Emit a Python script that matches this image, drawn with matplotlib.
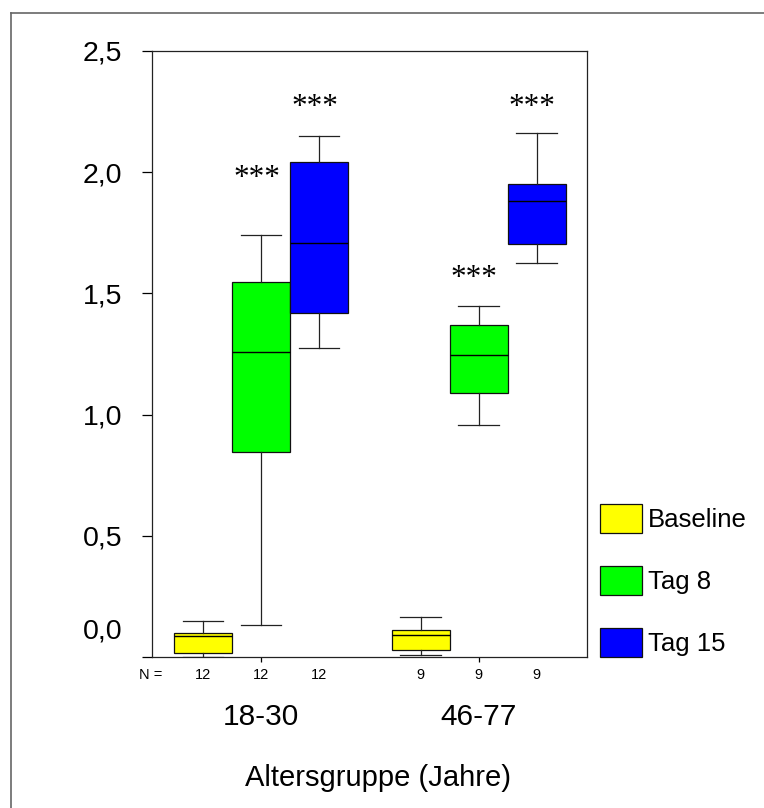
import matplotlib
matplotlib.use("Agg")
import matplotlib.pyplot as plt
from matplotlib.patches import Patch
from matplotlib.lines import Line2D

plt.rcParams["font.family"] = ["Liberation Sans", "DejaVu Sans"]

# Age groups and measurement days
groups = ["18-30", "46-77"]
conditions = ["Baseline", "Tag 8", "Tag 15"]
colors = ["#FFFF00", "#00FF00", "#0000FF"]

# Box statistics, ordered 18-30 (Baseline, Tag 8, Tag 15), then 46-77 (same order)
whislo = [0.000, 0.132, 1.273, 0.010, 0.957, 1.625]
q1 = [0.018, 0.844, 1.419, 0.028, 1.090, 1.702]
med = [0.088, 1.257, 1.708, 0.090, 1.247, 1.881]
q3 = [0.098, 1.545, 2.043, 0.110, 1.369, 1.950]
whishi = [0.150, 1.740, 2.149, 0.167, 1.449, 2.162]
n_counts = [12, 12, 12, 9, 9, 9]
significance = ["", "***", "***", "", "***", "***"]

y_ticks = [0.0, 0.5, 1.0, 1.5, 2.0, 2.5]
y_ticklabels = ["0,0", "0,5", "1,0", "1,5", "2,0", "2,5"]

W, H = 764, 808
fig = plt.figure(figsize=(W / 100, H / 100), dpi=100)
ax = fig.add_axes([152 / W, 1 - 657 / H, (587 - 152) / W, (657 - 51) / H])

positions = [1, 2, 3, 4.75, 5.75, 6.75]
group_centers = [2, 5.75]

stats = []
for i in range(len(med)):
    stats.append(dict(whislo=whislo[i], q1=q1[i], med=med[i], q3=q3[i],
                      whishi=whishi[i], fliers=[]))

bp = ax.bxp(stats, positions=positions, widths=1.0, patch_artist=True,
            showfliers=False, capwidths=0.7, manage_ticks=False,
            boxprops=dict(edgecolor="#111111", linewidth=0.9),
            medianprops=dict(color="black", linewidth=1.0),
            whiskerprops=dict(color="#222222", linewidth=0.9),
            capprops=dict(color="#222222", linewidth=0.9))
for i, box in enumerate(bp["boxes"]):
    box.set_facecolor(colors[i % 3])

ax.set_xlim(7 / 58, 442 / 58)
ax.set_ylim(0, 2.5)

# Y axis: the zero label is drawn lifted above the baseline
ax.set_yticks(y_ticks)
ax.set_yticklabels([""] + y_ticklabels[1:], fontsize=20.5)
ax.tick_params(axis="y", length=7.2, width=0.9, pad=14.4, direction="out")
ax.annotate(y_ticklabels[0], xy=(0, 0), xycoords=("axes fraction", "data"),
            xytext=(-21.6, 20.5), textcoords="offset points",
            ha="right", va="center_baseline", fontsize=20.5)

ax.set_xticks(group_centers)
ax.set_xticklabels(["", ""])
ax.tick_params(axis="x", length=3.6, width=0.9, direction="out")

for sp in ax.spines.values():
    sp.set_linewidth(0.9)
    sp.set_color("#222222")

# Sample sizes under each box
ax.annotate("N =", xy=(0, 0), xycoords="axes fraction", xytext=(-0.7, -13.3),
            textcoords="offset points", ha="center", va="center", fontsize=10.5)
for p, n in zip(positions, n_counts):
    ax.annotate(str(n), xy=(p, 0), xycoords=("data", "axes fraction"),
                xytext=(0, -13.3), textcoords="offset points",
                ha="center", va="center", fontsize=10.5)

# Group names
for c, g in zip(group_centers, groups):
    ax.annotate(g, xy=(c, 0), xycoords=("data", "axes fraction"),
                xytext=(0, -43.2), textcoords="offset points",
                ha="center", va="center", fontsize=21.5)

ax.set_xlabel("Altersgruppe (Jahre)", fontsize=21)
ax.xaxis.set_label_coords((378 - 152) / 435, -(778 - 657) / 606)
ax.xaxis.label.set_verticalalignment("center")

# Significance markers above the treatment boxes
star_y = [0, 1.996, 2.289, 0, 1.582, 2.289]
for p, s, yv in zip(positions, significance, star_y):
    if s:
        ax.annotate(s, xy=(p, yv), xycoords="data", xytext=(-3, -3.6),
                    textcoords="offset points", ha="center", va="center",
                    family="Liberation Serif", fontsize=22.5)

handles = [Patch(facecolor=c, edgecolor="#111111", linewidth=0.9) for c in colors]
fs = 18.5
fs_px = fs / 72 * 100
ax.legend(handles, conditions, loc="lower left",
          bbox_to_anchor=(600 / W, 1 - 657 / H), bbox_transform=fig.transFigure,
          frameon=False, fontsize=fs, handlelength=42 / fs_px,
          handleheight=1.36, handletextpad=6 / fs_px,
          labelspacing=1.28, borderpad=0, borderaxespad=0)

# Outer frame (left and top edges)
fx, fy = 10.5 / W, 1 - 13 / H
fig.add_artist(Line2D([fx, fx], [0, fy], transform=fig.transFigure,
                      color="#666666", linewidth=1.2))
fig.add_artist(Line2D([fx, 1], [fy, fy], transform=fig.transFigure,
                      color="#666666", linewidth=1.2))

fig.savefig("out.png", dpi=100, facecolor="white")
